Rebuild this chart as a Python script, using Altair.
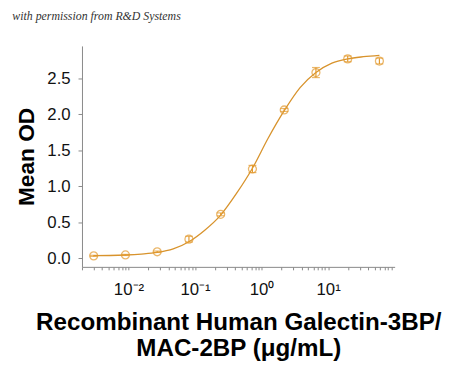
import altair as alt
import pandas as pd

# measured points
conc = [0.003, 0.009, 0.027, 0.081, 0.243, 0.729, 2.19, 6.56, 19.7, 59]
od = [0.033, 0.046, 0.09, 0.265, 0.61, 1.24, 2.06, 2.58, 2.77, 2.74]
err = [0.008, 0.008, 0.01, 0.04, 0.02, 0.05, 0.02, 0.07, 0.04, 0.04]

# fitted curve
curve_x = [0.003, 0.0052, 0.009, 0.0156, 0.027, 0.047, 0.081, 0.14, 0.243, 0.42,
           0.729, 1.26, 2.19, 3.79, 6.56, 11.4, 19.7, 34, 59]
curve_y = [0.035, 0.038, 0.045, 0.058, 0.08, 0.13, 0.23, 0.39, 0.6, 0.9,
           1.25, 1.67, 2.05, 2.37, 2.58, 2.71, 2.77, 2.80, 2.82]

tick_vals = ([k * 0.001 for k in range(2, 10)] + [k * 0.01 for k in range(1, 10)] +
             [k * 0.1 for k in range(1, 10)] + [float(k) for k in range(1, 10)] +
             [k * 10.0 for k in range(1, 10)])
tick_vals = [round(v, 6) for v in tick_vals]

pts = pd.DataFrame({"conc": conc, "od": od,
                    "lo": [o - e for o, e in zip(od, err)],
                    "hi": [o + e for o, e in zip(od, err)]})
curve = pd.DataFrame({"conc": curve_x, "od": curve_y})

COLOR = "#E39A2E"
LINE = "#D8932C"

xscale = alt.Scale(type="log", domain=[0.002, 100], nice=False)
yscale = alt.Scale(domain=[-0.12, 2.95], nice=False, zero=False)

label_expr = ("abs(datum.value-0.01)<1e-9 ? '10⁻²' : abs(datum.value-0.1)<1e-9 ? '10⁻¹' : "
              "abs(datum.value-1)<1e-9 ? '10⁰' : abs(datum.value-10)<1e-9 ? '10¹' : ''")

XTITLE = ["Recombinant Human Galectin-3BP/", "MAC-2BP (μg/mL)"]
YTITLE = "Mean OD"

xaxis = alt.Axis(values=tick_vals, labelExpr=label_expr, grid=False,
                 titleFontSize=24.5, titleFont="Liberation Sans", titleFontWeight="bold",
                 titleColor="black", titleLineHeight=27, titlePadding=13,
                 labelFont="Liberation Sans", labelFontSize=17, labelColor="#111",
                 labelPadding=12, tickSize=3, tickColor="#888", domainColor="#888",
                 labelFlush=False, labelOverlap=False)
yaxis = alt.Axis(values=[0, 0.5, 1.0, 1.5, 2.0, 2.5], format=".1f", grid=False,
                 titleFontSize=23, titleFont="Liberation Sans",
                 titleFontWeight="bold", titleColor="black", titlePadding=9,
                 labelFont="Liberation Sans", labelFontSize=17, labelColor="#111",
                 labelPadding=8, tickSize=4, tickColor="#888", domainColor="#888")

line = alt.Chart(curve).mark_line(color=LINE, strokeWidth=1.3, interpolate="monotone").encode(
    x=alt.X("conc:Q", scale=xscale, axis=xaxis, title=XTITLE),
    y=alt.Y("od:Q", scale=yscale, axis=yaxis, title=YTITLE),
)
bars = alt.Chart(pts).mark_errorbar(color=COLOR, ticks={"size": 8}, thickness=1.2).encode(
    x=alt.X("conc:Q", scale=xscale, title=XTITLE),
    y=alt.Y("lo:Q", scale=yscale, title=YTITLE),
    y2="hi:Q",
)
points = alt.Chart(pts).mark_point(shape="circle", filled=False, size=65,
                                   color=COLOR, strokeWidth=1.3).encode(
    x=alt.X("conc:Q", scale=xscale, title=XTITLE),
    y=alt.Y("od:Q", scale=yscale, title=YTITLE),
)

chart = alt.layer(line, bars, points).properties(
    width=317, height=224,
    padding={"left": 4, "top": 0, "right": 0, "bottom": 0},
    title=alt.TitleParams("with permission from R&D Systems", anchor="start", frame="bounds",
                          font="Liberation Serif", fontStyle="italic", fontWeight="normal",
                          fontSize=12, color="#333", offset=23, dx=-3),
).configure_view(stroke=None)

chart.save("out.html", embed_options={"renderer": "svg", "actions": False})
